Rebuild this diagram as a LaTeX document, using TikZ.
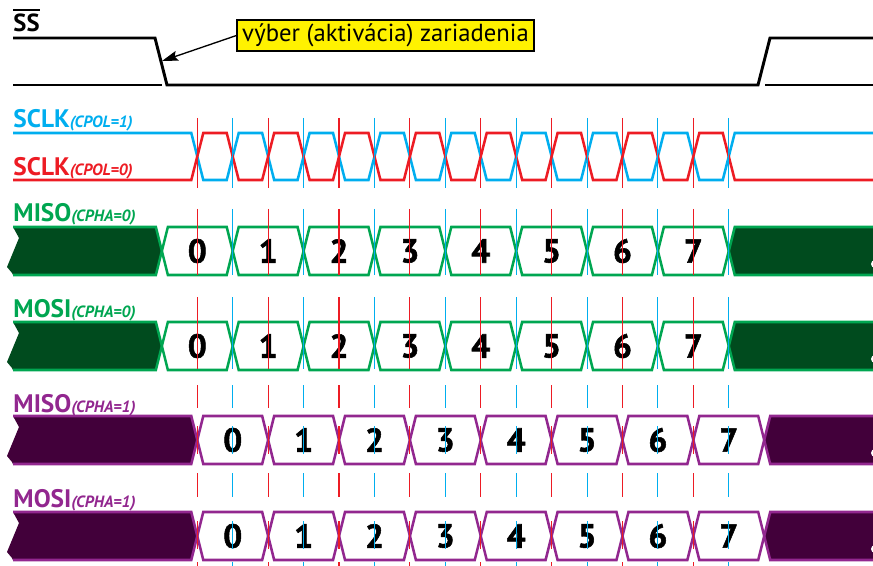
\documentclass[tikz,border=0pt]{standalone}
\usepackage{fontspec}
\setmainfont{PT Sans}
\newfontfamily\bitfont{PT Sans}[BoldFeatures={FakeBold=1.6}]
\usetikzlibrary{arrows.meta}

\definecolor{sclkblue}{RGB}{0,174,239}
\definecolor{sclkred}{RGB}{237,28,36}
\definecolor{cphagreen}{RGB}{0,166,81}
\definecolor{cphagreendark}{RGB}{0,75,30}
\definecolor{cphapurple}{RGB}{146,39,143}
\definecolor{cphapurpledark}{RGB}{66,0,58}
\definecolor{calloutyellow}{RGB}{255,242,0}

\newcommand{\sigtitle}[2]{{\fontsize{19}{19}\selectfont\bfseries #1}{\fontsize{12.2}{12.2}\selectfont\bfseries\itshape (#2)}}

\tikzset{every picture/.style={line width=0.75pt}}
\tikzset{
  sswave/.style={line width=2.2pt, line join=miter},
  ssrest/.style={line width=1pt},
  clkwave/.style={line width=1.9pt, line join=miter},
  tickmark/.style={line width=0.8pt},
  busline/.style={line width=1.9pt, line join=miter},
  signame/.style={anchor=base west, inner sep=0pt},
  bitdigit/.style={inner sep=0pt, font=\bitfont\fontsize{25}{25}\selectfont\bfseries},
  calloutbox/.style={draw, line width=0.8pt, fill=calloutyellow, inner sep=0pt,
    minimum width=222.75pt, minimum height=23.25pt, font=\fontsize{18.5}{18.5}\selectfont},
}

\begin{document}
\begin{tikzpicture}[x=0.75pt,y=0.75pt,yscale=-1,xscale=1]
\useasboundingbox (0,0) rectangle (873,566);
\clip (0,0) rectangle (873,566);

%Straight Lines: SS
\draw [sswave]  (13,38) -- (155,38) -- (167,85) -- (758,85) -- (770,38) -- (873,38) ;
\draw [ssrest]  (13,85) -- (162,85) ;
\draw [ssrest]  (765,85) -- (873,85) ;
\coordinate (ssfall) at (162,61);

%Straight Lines: SCLK (CPOL=1)
\draw [clkwave, sclkblue]  (13,133) \foreach \k in {0,2,...,14}{
    -- ({197.3+35.43*\k-6},133) -- ({197.3+35.43*\k+6},180)
    -- ({197.3+35.43*(\k+1)-6},180) -- ({197.3+35.43*(\k+1)+6},133) } -- (873,133) ;
%Straight Lines: SCLK (CPOL=0)
\draw [clkwave, sclkred]  (13,180) \foreach \k in {0,2,...,14}{
    -- ({197.3+35.43*\k-6},180) -- ({197.3+35.43*\k+6},133)
    -- ({197.3+35.43*(\k+1)-6},133) -- ({197.3+35.43*(\k+1)+6},180) } -- (873,180) ;

%Shapes: data rows
\foreach \nm/\T/\cz/\edge/\dark in {misoA/227/161.87/cphagreen/cphagreendark,
    mosiA/322/161.87/cphagreen/cphagreendark,
    misoB/416/197.3/cphapurple/cphapurpledark,
    mosiB/512/197.3/cphapurple/cphapurpledark}{
  \pgfmathsetmacro{\B}{\T+48}
  \pgfmathsetmacro{\M}{\T+24}
  \pgfmathsetmacro{\cl}{\cz+8*70.86}
  % left idle part
  \fill [\dark] (13,\T) -- ({\cz-6},\T) -- (\cz,\M) -- ({\cz-6},\B) -- (13,\B)
    -- (12,{\B-2}) -- (7,{\T+40}) -- (19,{\T+11}) -- cycle ;
  \draw [busline, \edge] (13,\T) -- ({\cz-6},\T) -- (\cz,\M) -- ({\cz-6},\B) -- (13,\B) ;
  % right idle part
  \fill [\dark] (\cl,\M) -- ({\cl+6},\T) -- (880,\T) -- (880,\B) -- ({\cl+6},\B) -- cycle ;
  \draw [busline, \edge] (880,\T) -- ({\cl+6},\T) -- (\cl,\M) -- ({\cl+6},\B) -- (880,\B) ;
  \fill [white] (875,{\T+37}) circle (4) ;
  % bits
  \foreach \j in {0,...,7}{
    \pgfmathsetmacro{\xa}{\cz+70.86*\j}
    \pgfmathsetmacro{\xb}{\xa+70.86}
    \draw [busline, \edge] (\xa,\M) -- ({\xa+6},\T) -- ({\xb-6},\T) -- (\xb,\M)
      -- ({\xb-6},\B) -- ({\xa+6},\B) -- cycle ;
    \node [bitdigit] (\nm-\j) at ({(\xa+\xb)/2},\M) {\j};
  }
}

%Straight Lines: clock edge marks
\foreach \ya/\yb in {118/188, 209/275, 297/369, 385/408, 426/454, 473/497, 521/549, 562/566}{
  \foreach \k in {0,2,...,14}{
    \draw [tickmark, sclkred] ({197.3+35.43*\k},\ya) -- ({197.3+35.43*\k},\yb) ;
    \draw [tickmark, sclkblue] ({197.3+35.43*(\k+1)},\ya) -- ({197.3+35.43*(\k+1)},\yb) ;
  }
}

% Text Node
\node [signame] (sslabel) at (13,32) {\fontsize{18.5}{18.5}\selectfont\bfseries SS};
\draw [line width=1.6pt] (sslabel.west |- 0,10) -- (sslabel.east |- 0,10) ;
% Text Node
\node [signame, text=sclkblue] (sclkA) at (13,128) {\sigtitle{SCLK}{CPOL=1}};
% Text Node
\node [signame, text=sclkred] (sclkB) at (13,176) {\sigtitle{SCLK}{CPOL=0}};
% Text Node
\node [signame, text=cphagreen] (misoAlabel) at (13,222) {\sigtitle{MISO}{CPHA=0}};
% Text Node
\node [signame, text=cphagreen] (mosiAlabel) at (13,317) {\sigtitle{MOSI}{CPHA=0}};
% Text Node
\node [signame, text=cphapurple] (misoBlabel) at (13,412) {\sigtitle{MISO}{CPHA=1}};
% Text Node
\node [signame, text=cphapurple] (mosiBlabel) at (13,507) {\sigtitle{MOSI}{CPHA=1}};

% Text Node
\node [calloutbox] (callout) at (385.5,35.5) {výber (aktivácia) zariadenia};
\draw [-{Stealth[length=12pt,width=7.5pt,inset=2pt]}, line width=1pt] (callout.west) -- (ssfall) ;

\end{tikzpicture}
\end{document}
